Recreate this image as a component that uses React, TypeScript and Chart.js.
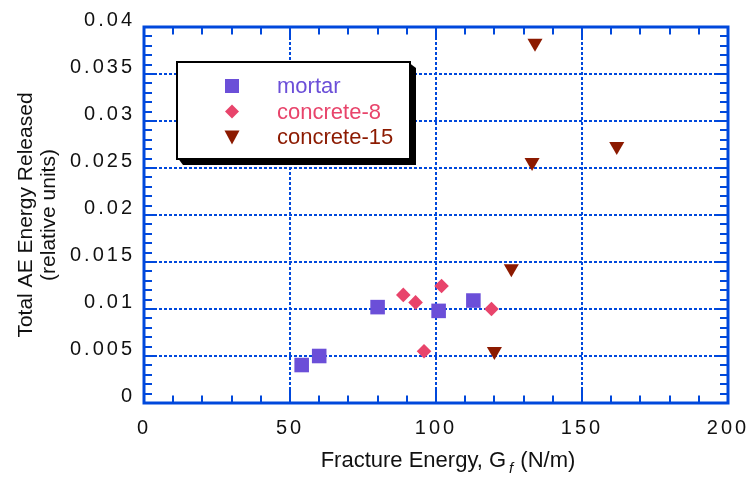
import React, { useEffect, useRef } from "react";
import { Chart, registerables } from "chart.js";

Chart.register(...registerables);

// ---- data ----
const seriesLabels = ["mortar", "concrete-8", "concrete-15"];
const mortarX = [54.0, 60.0, 80.0, 100.9, 112.8];
const mortarY = [0.00404, 0.005, 0.0102, 0.0098, 0.0109];
const concrete8X = [88.8, 93.0, 95.9, 101.9, 119.0];
const concrete8Y = [0.0115, 0.0107, 0.0055, 0.01245, 0.01];
const concrete15X = [133.9, 132.9, 161.9, 125.8, 120.0];
const concrete15Y = [0.0383, 0.0256, 0.0273, 0.0143, 0.0055];

const xTickValues = [0, 50, 100, 150, 200];
const xTickLabels = ["0", "50", "100", "150", "200"];
const yTickValues = [0, 0.005, 0.01, 0.015, 0.02, 0.025, 0.03, 0.035, 0.04];
const yTickLabels = ["0", "0.005", "0.01", "0.015", "0.02", "0.025", "0.03", "0.035", "0.04"];

const xTitleMain = "Fracture Energy, G";
const xTitleSub = "f";
const xTitleEnd = " (N/m)";
const yTitleLines = ["Total AE Energy Released", "(relative units)"];

const seriesColors = ["#6b4fd8", "#e8446b", "#8c1a00"];
const BLUE = "#0048dc";
const FONT = "'Liberation Sans', Arial, Helvetica, sans-serif";

const toPoints = (xs: number[], ys: number[]) => xs.map((x, i) => ({ x, y: ys[i] }));

const decorPlugin = {
  id: "decor",
  beforeDraw(chart: any) {
    (chart.ctx as any).letterSpacing = "3px";
  },
  beforeDatasetsDraw(chart: any) {
    const ctx = chart.ctx;
    (ctx as any).letterSpacing = "0px";
    const xs = chart.scales.x;
    const ys = chart.scales.y;
    const { left, right, top, bottom } = chart.chartArea;
    ctx.save();
    ctx.strokeStyle = BLUE;
    ctx.lineWidth = 2;
    ctx.beginPath();
    for (let k = 0; k <= 20; k++) {
      const v = k * 10;
      const px = Math.round(xs.getPixelForValue(v));
      const len = k % 5 === 0 ? 13 : 7.5;
      ctx.moveTo(px, bottom);
      ctx.lineTo(px, bottom - len);
      ctx.moveTo(px, top);
      ctx.lineTo(px, top + len);
    }
    for (let k = 0; k <= 40; k++) {
      const v = k / 1000;
      const py = Math.round(ys.getPixelForValue(v));
      const len = k % 5 === 0 ? 13 : 8;
      ctx.moveTo(left, py);
      ctx.lineTo(left + len, py);
      ctx.moveTo(right, py);
      ctx.lineTo(right - len, py);
    }
    ctx.stroke();
    ctx.lineWidth = 3;
    ctx.strokeRect(left, top, right - left, bottom - top);
    ctx.restore();
  },
  afterDraw(chart: any) {
    const ctx = chart.ctx;
    (ctx as any).letterSpacing = "0px";
    const { left, right, top, bottom } = chart.chartArea;

    // legend box with extruded shadow
    const lx = left + 33;
    const ly = top + 35;
    const lw = 233;
    const lh = 97;
    const sh = 6;
    ctx.save();
    ctx.fillStyle = "#000";
    ctx.beginPath();
    ctx.moveTo(lx + lw - 2, ly);
    ctx.lineTo(lx + lw + sh, ly + sh);
    ctx.lineTo(lx + lw + sh, ly + lh + sh);
    ctx.lineTo(lx + sh, ly + lh + sh);
    ctx.lineTo(lx, ly + lh - 2);
    ctx.closePath();
    ctx.fill();
    ctx.fillStyle = "#fff";
    ctx.fillRect(lx, ly, lw, lh);
    ctx.lineWidth = 2;
    ctx.strokeStyle = "#000";
    ctx.strokeRect(lx, ly, lw, lh);

    ctx.font = `22px ${FONT}`;
    ctx.textBaseline = "middle";
    ctx.textAlign = "left";
    seriesLabels.forEach((label, i) => {
      const cy = ly + 24 + i * 25.5;
      const mx = lx + 55;
      ctx.fillStyle = seriesColors[i];
      ctx.beginPath();
      if (i === 0) {
        ctx.rect(mx - 7, cy - 7, 14, 14);
      } else if (i === 1) {
        ctx.moveTo(mx, cy - 7);
        ctx.lineTo(mx + 7, cy);
        ctx.lineTo(mx, cy + 7);
        ctx.lineTo(mx - 7, cy);
        ctx.closePath();
      } else {
        ctx.moveTo(mx - 7.5, cy - 6.5);
        ctx.lineTo(mx + 7.5, cy - 6.5);
        ctx.lineTo(mx, cy + 7.5);
        ctx.closePath();
      }
      ctx.fill();
      ctx.fillText(label, lx + 100, cy + 1);
    });

    // x title with subscript
    ctx.fillStyle = "#111";
    ctx.textBaseline = "alphabetic";
    ctx.font = `22px ${FONT}`;
    const w1 = ctx.measureText(xTitleMain).width;
    const w3 = ctx.measureText(xTitleEnd).width;
    ctx.font = `italic 15px ${FONT}`;
    const w2 = ctx.measureText(xTitleSub).width + 4;
    const total = w1 + w2 + w3;
    const cx = (left + right) / 2 + 12;
    const x0 = cx - total / 2;
    const base = bottom + 64;
    ctx.font = `22px ${FONT}`;
    ctx.fillText(xTitleMain, x0, base);
    ctx.font = `italic 15px ${FONT}`;
    ctx.fillText(xTitleSub, x0 + w1 + 3, base + 6);
    ctx.font = `22px ${FONT}`;
    ctx.fillText(xTitleEnd, x0 + w1 + w2, base);

    // y title (two lines, rotated)
    const cyMid = (top + bottom) / 2;
    ctx.save();
    ctx.font = `21px ${FONT}`;
    ctx.textAlign = "center";
    ctx.translate(32, cyMid);
    ctx.rotate(-Math.PI / 2);
    ctx.fillText(yTitleLines[0], 0, 0);
    ctx.restore();
    ctx.save();
    ctx.font = `21px ${FONT}`;
    ctx.textAlign = "center";
    ctx.translate(55, cyMid);
    ctx.rotate(-Math.PI / 2);
    ctx.fillText(yTitleLines[1], 0, 0);
    ctx.restore();

    ctx.restore();
  },
};

export default function App() {
  const ref = useRef<HTMLCanvasElement | null>(null);
  useEffect(() => {
    document.body.style.margin = "0";
    const canvas = ref.current;
    if (!canvas) return;
    const chart = new Chart(canvas, {
      type: "scatter",
      data: {
        datasets: [
          {
            label: seriesLabels[0],
            data: toPoints(mortarX, mortarY),
            pointStyle: "rect",
            pointRadius: 10.3,
            backgroundColor: seriesColors[0],
            borderColor: seriesColors[0],
            borderWidth: 0,
          },
          {
            label: seriesLabels[1],
            data: toPoints(concrete8X, concrete8Y),
            pointStyle: "rectRot",
            pointRadius: 7.3,
            backgroundColor: seriesColors[1],
            borderColor: seriesColors[1],
            borderWidth: 0,
          },
          {
            label: seriesLabels[2],
            data: toPoints(concrete15X, concrete15Y),
            pointStyle: "triangle",
            rotation: 180,
            pointRadius: 8.7,
            backgroundColor: seriesColors[2],
            borderColor: seriesColors[2],
            borderWidth: 0,
          },
        ],
      },
      options: {
        responsive: false,
        animation: false,
        devicePixelRatio: 1,
        layout: { padding: { top: 27, right: 22, left: 0, bottom: 0 } },
        plugins: { legend: { display: false }, tooltip: { enabled: false } },
        scales: {
          x: {
            type: "linear",
            min: 0,
            max: 200,
            afterBuildTicks: (s: any) => {
              s.ticks = xTickValues.map((v) => ({ value: v }));
            },
            afterFit: (s: any) => {
              s.height = 75;
              s.paddingLeft = 0;
              s.paddingRight = 0;
            },
            ticks: {
              callback: (_v: any, i: number) => xTickLabels[i],
              font: { size: 20, family: FONT },
              color: "#111",
              padding: 13,
              maxRotation: 0,
            },
            grid: { color: BLUE, lineWidth: 2, drawTicks: false },
            border: { display: false, dash: [3, 2] },
          },
          y: {
            type: "linear",
            min: 0,
            max: 0.04,
            afterBuildTicks: (s: any) => {
              s.ticks = yTickValues.map((v) => ({ value: v }));
            },
            afterFit: (s: any) => {
              s.width = 144;
              s.paddingTop = 0;
              s.paddingBottom = 0;
            },
            ticks: {
              callback: (_v: any, i: number) => yTickLabels[i],
              font: { size: 20, family: FONT },
              color: "#111",
              padding: 9,
              labelOffset: -6.5,
            },
            grid: { color: BLUE, lineWidth: 2, drawTicks: false },
            border: { display: false, dash: [3, 2] },
          },
        },
      },
      plugins: [decorPlugin],
    } as any);
    return () => chart.destroy();
  }, []);
  return (
    <div style={{ width: 750, height: 478 }}>
      <canvas ref={ref} width={750} height={478} style={{ display: "block" }} />
    </div>
  );
}
